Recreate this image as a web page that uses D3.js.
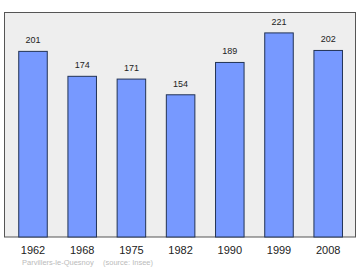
<!DOCTYPE html>
<html>
<head>
<meta charset="utf-8">
<script src="https://cdn.jsdelivr.net/npm/d3@7"></script>
<style>
  body { margin: 0; background: #fff; }
  text { font-family: "Liberation Sans", Arial, sans-serif; }
</style>
</head>
<body>
<div id="container"></div>
<script>
	var WIDTH = 360;
	var HEIGHT = 270;

	// data
	var years = ["1962", "1968", "1975", "1982", "1990", "1999", "2008"];
	var population = [201, 174, 171, 154, 189, 221, 202];
	var caption = ["Parvillers-le-Quesnoy", "(source: Insee)"];

	// plot frame
	var frame = {left: 4.5, top: 12.5, right: 355.5, bottom: 237};

	var svg = d3.select('#container')
		.append('svg')
		.attr('width', WIDTH)
		.attr('height', HEIGHT);

	var x = d3.scaleBand()
		.domain(years)
		.range([8.4, 352.8])
		.paddingInner(0.42)
		.paddingOuter(0.21);

	var y = d3.scaleLinear()
		.domain([0, d3.max(population) * 1.1])
		.range([frame.bottom, frame.top]);

	svg.append('rect')
		.attr('x', frame.left)
		.attr('y', frame.top)
		.attr('width', frame.right - frame.left)
		.attr('height', frame.bottom - frame.top)
		.style('fill', '#eeeeee')
		.style('stroke', '#555555')
		.style('stroke-width', 1);

	var data = years.map(function(d, i){ return {year: d, value: population[i]}; });

	svg.selectAll('rect.bar')
		.data(data)
		.enter().append('rect')
		.attr('class', 'bar')
		.attr('x', function(d){ return x(d.year); })
		.attr('y', function(d){ return y(d.value); })
		.attr('width', x.bandwidth())
		.attr('height', function(d){ return frame.bottom - y(d.value); })
		.style('fill', '#7799ff')
		.style('stroke', '#223355')
		.style('stroke-width', 1);

	// value labels above bars
	svg.selectAll('text.val')
		.data(data)
		.enter().append('text')
		.attr('class', 'val')
		.attr('x', function(d){ return x(d.year) + x.bandwidth() / 2; })
		.attr('y', function(d){ return y(d.value) - 8; })
		.attr('text-anchor', 'middle')
		.style('font-size', '9px')
		.style('fill', '#222')
		.text(function(d){ return d.value; });

	// year axis, no line or ticks
	var axis = svg.append('g')
		.attr('transform', 'translate(0,' + frame.bottom + ')')
		.call(d3.axisBottom(x).tickSize(0).tickPadding(9));
	axis.select('.domain').remove();
	axis.selectAll('text')
		.style('font-family', '"Liberation Sans", Arial, sans-serif')
		.style('font-size', '11px')
		.style('fill', '#222');

	svg.append('text')
		.attr('x', 22)
		.attr('y', 265)
		.style('font-size', '7.5px')
		.style('fill', '#bbbbbb')
		.text(caption[0]);
	svg.append('text')
		.attr('x', 103)
		.attr('y', 265)
		.style('font-size', '7.5px')
		.style('fill', '#bbbbbb')
		.text(caption[1]);
</script>
</body>
</html>
